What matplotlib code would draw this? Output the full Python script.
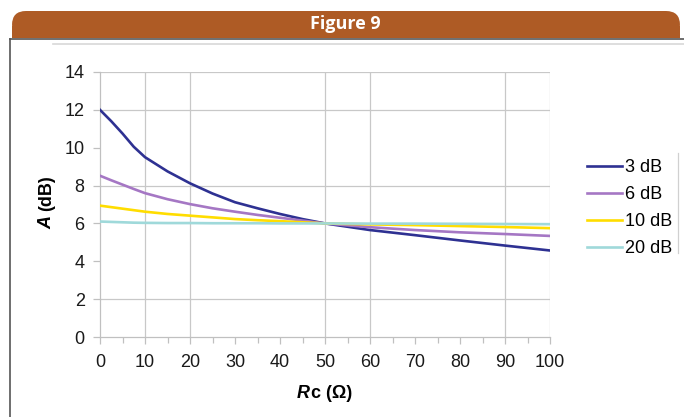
import matplotlib
matplotlib.use("Agg")
import matplotlib.pyplot as plt
from matplotlib.patches import FancyBboxPatch
import numpy as np

plt.rcParams['font.family'] = ['Liberation Sans', 'DejaVu Sans']

# ---- data ----
rc = [0, 2.5, 5, 7.5, 10, 15, 20, 25, 30, 35, 40, 45, 50, 60, 70, 80, 90, 100]
a_3db = [12.0, 11.4, 10.75, 10.05, 9.5, 8.75, 8.12, 7.58, 7.12, 6.8, 6.5, 6.23, 6.0, 5.65, 5.38, 5.1, 4.83, 4.57]
a_6db = [8.52, 8.28, 8.05, 7.82, 7.6, 7.28, 7.02, 6.8, 6.62, 6.45, 6.3, 6.15, 6.0, 5.8, 5.65, 5.53, 5.44, 5.34]
a_10db = [6.94, 6.86, 6.78, 6.7, 6.62, 6.5, 6.41, 6.32, 6.23, 6.17, 6.12, 6.06, 6.0, 5.95, 5.91, 5.86, 5.81, 5.75]
a_20db = [6.1, 6.08, 6.06, 6.04, 6.03, 6.02, 6.02, 6.01, 6.01, 6.01, 6.0, 6.0, 6.0, 5.99, 5.99, 5.98, 5.97, 5.96]
series_labels = ["3 dB", "6 dB", "10 dB", "20 dB"]
series = [a_3db, a_6db, a_10db, a_20db]
colors = ["#2E3192", "#A577C4", "#FFDD00", "#9FD9DA"]
x_ticks = [0, 10, 20, 30, 40, 50, 60, 70, 80, 90, 100]
y_ticks = [0, 2, 4, 6, 8, 10, 12, 14]
x_grid = [10, 20, 50, 60, 90, 100]
y_grid = [2, 8, 12, 14]

W, H = 684, 417
fig = plt.figure(figsize=(W / 100, H / 100), dpi=100)
fig.patch.set_facecolor("white")

# background axes in pixel coordinates for decorations
bg = fig.add_axes([0, 0, 1, 1])
bg.set_xlim(0, W)
bg.set_ylim(H, 0)
bg.axis("off")
bg.add_patch(FancyBboxPatch((12, 11), 668, 27,
                            boxstyle="round,pad=0,rounding_size=14",
                            facecolor="#AE5B25", edgecolor="none"))
bg.add_patch(plt.Rectangle((12, 26), 668, 12, facecolor="#AE5B25", edgecolor="none"))
bg.text(345, 24, "Figure 9", color="white", fontsize=13,
        fontweight="bold", family=["Open Sans", "DejaVu Sans"],
        ha="center", va="center")
bg.plot([10, 684], [38.5, 38.5], color="#555555", lw=1.2)
bg.plot([10, 10], [38.5, 417], color="#555555", lw=1.2)
bg.plot([53, 684], [43.5, 43.5], color="#D8D8D8", lw=1.2)
bg.plot([678, 678], [153, 253], color="#D0D0D0", lw=0.9)

def fx(px):
    return px / W

def fy(py):
    return 1 - py / H

# axes
ax = fig.add_axes([fx(100), fy(337), fx(550) - fx(100), fy(72) - fy(337)])
ax.set_xlim(0, 100)
ax.set_ylim(0, 14)
for v in x_grid:
    ax.axvline(v, color="#C8C8C8", lw=0.9, zorder=0)
for v in y_grid:
    ax.axhline(v, color="#C8C8C8", lw=0.9, zorder=0)

for ys, lab, c in zip(series, series_labels, colors):
    ax.plot(rc, ys, color=c, lw=1.9, label=lab, zorder=3)

for s in ["top", "right"]:
    ax.spines[s].set_visible(False)
for s in ["left", "bottom"]:
    ax.spines[s].set_color("#C0C0C0")
    ax.spines[s].set_linewidth(0.9)

ax.set_xticks(x_ticks)
ax.set_xticks(np.arange(5, 100, 10), minor=True)
ax.set_yticks(y_ticks)
ax.tick_params(axis="both", which="both", direction="out", color="#C0C0C0",
               labelsize=13, labelcolor="#1A1A1A")
ax.tick_params(axis="both", which="major", length=5, width=0.9)
ax.tick_params(axis="x", which="minor", length=4, width=0.9)
ax.tick_params(axis="x", pad=7)
ax.tick_params(axis="y", pad=6)

# axis labels
bg.text(47, 222, "A", rotation=90, fontsize=13, fontweight="bold",
        fontstyle="italic", ha="center", va="center")
bg.text(47, 193, "(dB)", rotation=90, fontsize=13, fontweight="bold",
        ha="center", va="center")
bg.text(303, 394, "R", fontsize=13, fontweight="bold",
        fontstyle="italic", ha="center", va="center")
bg.text(332, 394, "c (Ω)", fontsize=13, fontweight="bold",
        ha="center", va="center")

handles, labels = ax.get_legend_handles_labels()
leg = fig.legend(handles, labels, loc="upper left", bbox_to_anchor=(fx(587), fy(159)),
                 frameon=False, fontsize=13, handlelength=1.95,
                 handletextpad=0.15, labelspacing=0.56, borderpad=0,
                 borderaxespad=0)

fig.savefig("out.png", dpi=100)
